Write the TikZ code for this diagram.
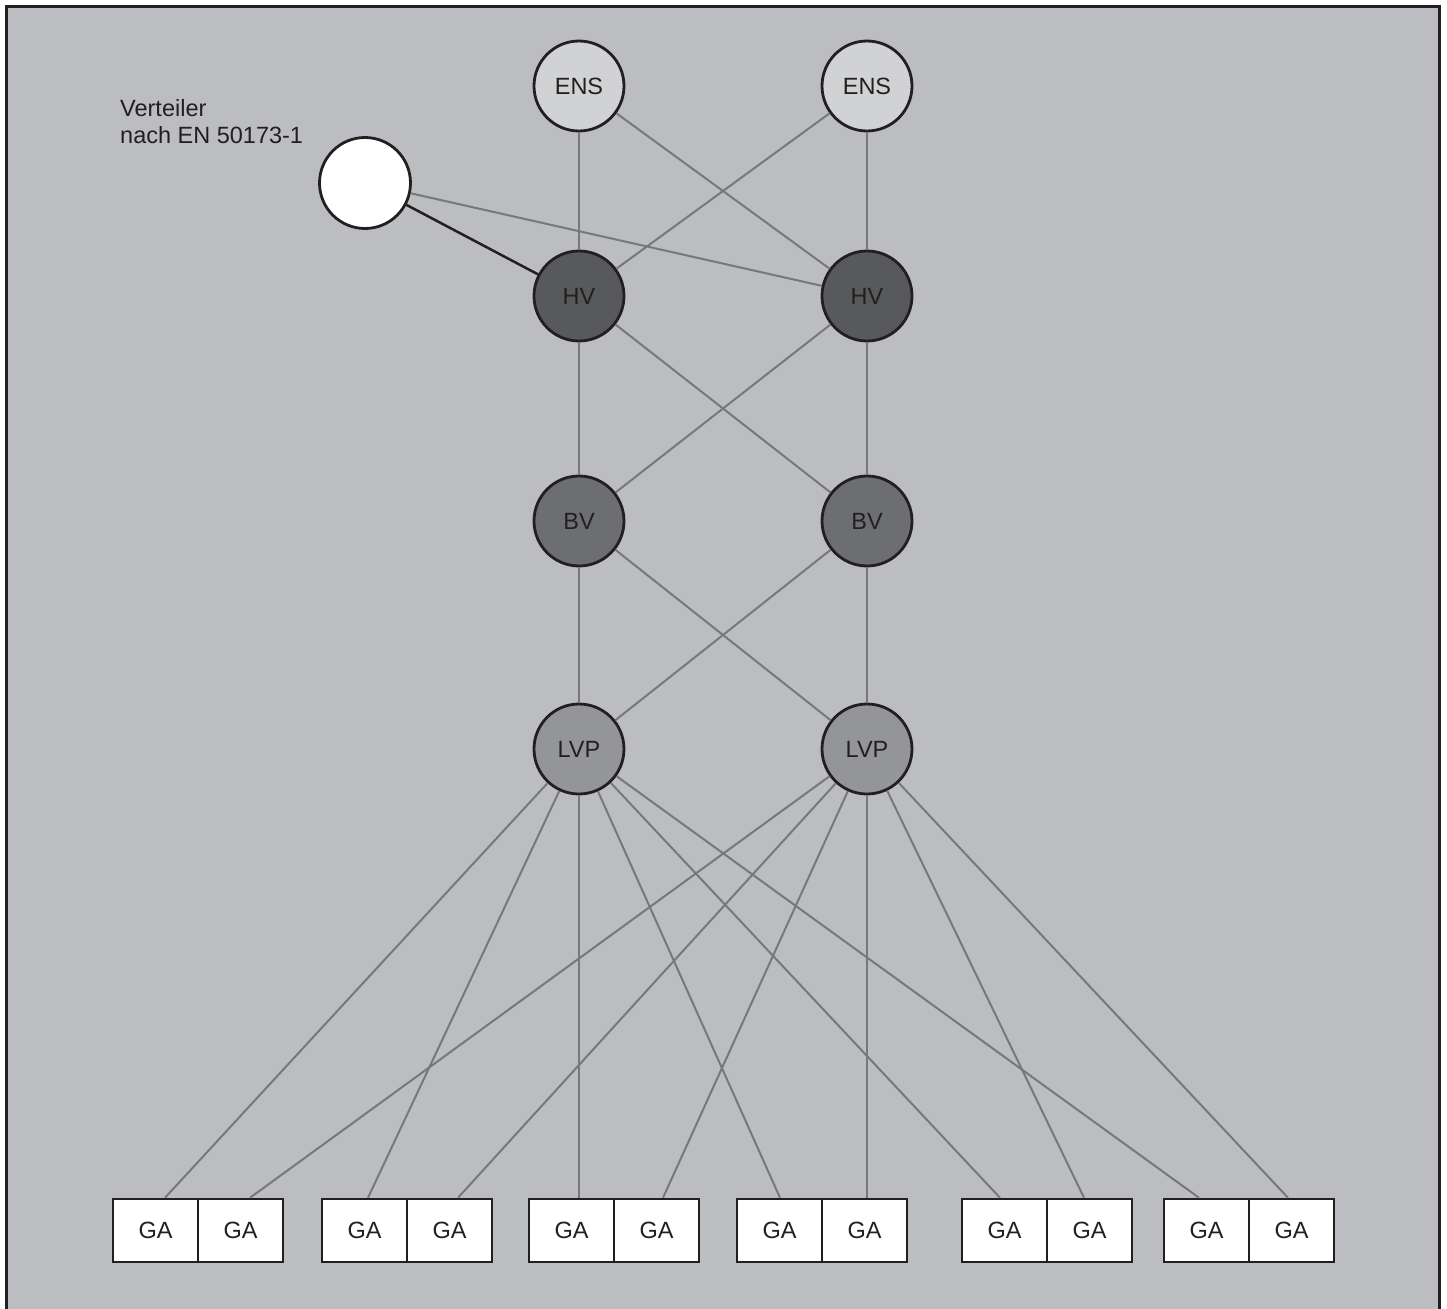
\documentclass[tikz,border=0pt]{standalone}
\usepackage{fontspec}
\setmainfont{Liberation Sans}
\definecolor{bgc}{HTML}{BCBDC1}
\definecolor{ensc}{HTML}{D1D2D4}
\definecolor{hvc}{HTML}{58595B}
\definecolor{bvc}{HTML}{6D6E71}
\definecolor{lvpc}{HTML}{939598}
\definecolor{linec}{HTML}{77787B}
\definecolor{inkc}{HTML}{231F20}
\begin{document}
\begin{tikzpicture}[x=1pt,y=-1pt,
  every node/.style={font=\fontsize{23.5}{27}\selectfont, text=inkc},
  hub/.style={circle, draw=inkc, line width=2.8pt, minimum size=90pt, inner sep=0pt},
  ens/.style={hub, fill=ensc},
  hvn/.style={hub, fill=hvc},
  bvn/.style={hub, fill=bvc},
  lvpn/.style={hub, fill=lvpc},
  dist/.style={hub, fill=white, minimum size=91pt},
  ga/.style={rectangle, draw=inkc, line width=2.5pt, fill=white, minimum width=85pt, minimum height=63pt, inner sep=0pt},
  link/.style={draw=linec, line width=2pt},
  blink/.style={draw=inkc, line width=2.5pt}]
\useasboundingbox (0,0) rectangle (1447,1308);
\fill[white] (0,0) rectangle (1447,1308);
\begin{scope}
\clip (0,0) rectangle (1447,1308);
\draw[fill=bgc, draw=inkc, line width=3pt] (6.5,6.5) rectangle (1439.5,1330);
\end{scope}

% nodes
\node[ens] (ensL) at (579,86) {ENS};
\node[ens] (ensR) at (867,86) {ENS};
\node[dist] (vt) at (365,183) {};
\node[align=left, anchor=north west, inner sep=0pt] (vtlabel) at (120,99) {Verteiler\\nach EN 50173-1};
\node[hvn] (hvL) at (579,296) {HV};
\node[hvn] (hvR) at (867,296) {HV};
\node[bvn] (bvL) at (579,521) {BV};
\node[bvn] (bvR) at (867,521) {BV};
\node[lvpn] (lvpL) at (579,749) {LVP};
\node[lvpn] (lvpR) at (867,749) {LVP};

% GA cells
\foreach \i/\l in {1/113, 3/322, 5/529, 7/737, 9/962, 11/1164} {
  \pgfmathtruncatemacro{\j}{\i+1}
  \node[ga] (ga\i) at (\l+42.5,1230.5) {GA};
  \node[ga] (ga\j) at (\l+127.5,1230.5) {GA};
}

% connectors upper part
\draw[link] (ensL) -- (hvL);
\draw[link] (ensL) -- (hvR);
\draw[link] (ensR) -- (hvL);
\draw[link] (ensR) -- (hvR);
\draw[link] (vt) -- (hvR);
\draw[blink] (vt) -- (hvL);
\draw[link] (hvL) -- (bvL);
\draw[link] (hvL) -- (bvR);
\draw[link] (hvR) -- (bvL);
\draw[link] (hvR) -- (bvR);
\draw[link] (bvL) -- (lvpL);
\draw[link] (bvL) -- (lvpR);
\draw[link] (bvR) -- (lvpL);
\draw[link] (bvR) -- (lvpR);

% connectors to GA
\draw[link] (lvpL) -- ([xshift=9.5]ga1.north);
\draw[link] (lvpL) -- ([xshift=3.5]ga3.north);
\draw[link] (lvpL) -- ([xshift=7.5]ga5.north);
\draw[link] (lvpL) -- ([xshift=0.5]ga7.north);
\draw[link] (lvpL) -- ([xshift=-4.5]ga9.north);
\draw[link] (lvpL) -- ([xshift=-7.5]ga11.north);
\draw[link] (lvpR) -- ([xshift=9.5]ga2.north);
\draw[link] (lvpR) -- ([xshift=8.5]ga4.north);
\draw[link] (lvpR) -- ([xshift=6.5]ga6.north);
\draw[link] (lvpR) -- ([xshift=2.5]ga8.north);
\draw[link] (lvpR) -- ([xshift=-5.5]ga10.north);
\draw[link] (lvpR) -- ([xshift=-3.5]ga12.north);
\end{tikzpicture}
\end{document}
